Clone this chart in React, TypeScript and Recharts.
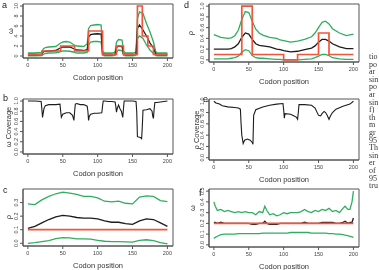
import { Line, LineChart, ReferenceArea, XAxis, YAxis } from "recharts";

const RED = "#f2553d";
const GREEN = "#2fae5f";
const BLACK = "#1c1c1c";
const AXIS = "#555";
const TEXT = "#333";

const codonTicks = [0, 50, 100, 150, 200];
const codonDomain: [number, number] = [-7, 208];

// panel a: omega, variable along the sequence
const aX = [0, 10, 20, 22, 25, 30, 40, 45, 50, 55, 60, 65, 70, 80, 85, 87, 90, 95, 100, 105, 107, 110, 120, 125, 127, 130, 135, 137, 140, 150, 155, 157, 160, 165, 170, 175, 180, 183, 185, 190, 200];
const aMean = [0.3, 0.3, 0.35, 0.8, 0.95, 1.0, 1.1, 1.5, 1.8, 1.85, 1.8, 1.5, 1.2, 1.1, 1.3, 3.8, 4.3, 4.4, 4.45, 4.4, 0.5, 0.3, 0.3, 0.35, 1.7, 2.0, 1.9, 0.5, 0.3, 0.3, 0.35, 5.5, 6.2, 5.2, 4.0, 2.6, 1.6, 0.5, 0.3, 0.3, 0.3];
const aUpper = [0.6, 0.6, 0.7, 1.4, 1.7, 1.8, 1.9, 2.4, 2.8, 2.9, 2.8, 2.3, 2.0, 1.9, 2.4, 5.5, 6.1, 6.2, 6.3, 6.2, 1.0, 0.6, 0.6, 0.8, 2.8, 3.3, 3.2, 1.0, 0.6, 0.6, 0.8, 7.5, 8.8, 8.5, 6.5, 4.8, 2.8, 1.0, 0.6, 0.6, 0.6];
const aLower = [0.05, 0.05, 0.08, 0.3, 0.5, 0.6, 0.65, 0.8, 1.0, 1.0, 0.95, 0.8, 0.6, 0.6, 0.7, 2.2, 2.8, 2.9, 2.9, 2.8, 0.2, 0.05, 0.05, 0.1, 0.8, 1.2, 1.1, 0.2, 0.05, 0.05, 0.1, 3.5, 4.0, 3.5, 2.2, 1.2, 0.5, 0.1, 0.05, 0.05, 0.05];
const aTrueX = [0, 20, 47, 67, 87, 107, 127, 137, 157, 164, 172, 180, 200];
const aTrue = [0.3, 1, 2, 1, 5, 0.3, 2, 0.3, 10, 4, 2, 0.3, 0.3];

// panel b: omega coverage
const bX = [0, 10, 19, 20, 21, 23, 25, 30, 40, 46, 47, 48, 50, 55, 60, 64, 66, 67, 68, 70, 75, 80, 85, 86, 87, 88, 90, 95, 100, 106, 107, 108, 110, 115, 120, 125, 126, 127, 128, 130, 132, 134, 136, 137, 138, 140, 150, 155, 156, 157, 160, 162, 163, 164, 165, 170, 175, 178, 179, 180, 181, 182, 185, 190, 195, 200];
const bCov = [1.0, 1.0, 0.99, 0.85, 0.68, 0.85, 0.91, 0.93, 0.93, 0.94, 0.8, 0.68, 0.74, 0.77, 0.77, 0.72, 0.62, 0.8, 0.94, 0.95, 0.93, 0.93, 0.9, 0.8, 0.62, 0.7, 0.74, 0.76, 0.76, 0.77, 0.9, 1.0, 1.0, 0.99, 0.99, 0.98, 0.9, 0.78, 0.85, 0.92, 0.85, 0.8, 0.68, 0.85, 1.0, 1.0, 1.0, 0.99, 0.8, 0.3, 0.29, 0.28, 0.25, 0.5, 0.82, 0.83, 0.85, 0.8, 0.7, 0.66, 0.85, 0.97, 0.97, 0.98, 0.99, 1.0];

// panel c: rho, constant
const cX = [0, 10, 20, 30, 40, 50, 60, 70, 80, 90, 100, 110, 120, 130, 140, 150, 160, 170, 180, 190, 200];
const cMean = [0.11, 0.125, 0.15, 0.175, 0.195, 0.205, 0.2, 0.19, 0.185, 0.185, 0.18, 0.165, 0.155, 0.155, 0.145, 0.14, 0.165, 0.18, 0.175, 0.15, 0.125];
const cUpper = [0.29, 0.285, 0.32, 0.345, 0.365, 0.377, 0.37, 0.36, 0.345, 0.345, 0.335, 0.31, 0.305, 0.31, 0.295, 0.29, 0.34, 0.35, 0.345, 0.315, 0.307];
const cLower = [0.0, 0.005, 0.012, 0.02, 0.035, 0.042, 0.04, 0.033, 0.033, 0.03, 0.022, 0.015, 0.012, 0.012, 0.01, 0.008, 0.022, 0.026, 0.02, 0.005, -0.005];
const cTrueX = [0, 200];
const cTrue = [0.1, 0.1];

// panel d: rho, variable
const dX = [0, 10, 20, 25, 30, 35, 40, 45, 50, 55, 60, 65, 70, 80, 90, 95, 100, 110, 120, 130, 140, 145, 150, 155, 160, 165, 170, 180, 190, 200];
const dMean = [0.2, 0.2, 0.2, 0.21, 0.24, 0.3, 0.42, 0.5, 0.48, 0.38, 0.3, 0.27, 0.26, 0.24, 0.2, 0.19, 0.17, 0.15, 0.16, 0.19, 0.22, 0.26, 0.33, 0.38, 0.38, 0.35, 0.3, 0.24, 0.21, 0.21];
const dUpper = [0.47, 0.42, 0.4, 0.41, 0.45, 0.55, 0.75, 0.9, 0.88, 0.72, 0.57, 0.5, 0.46, 0.42, 0.4, 0.37, 0.36, 0.33, 0.35, 0.38, 0.43, 0.5, 0.6, 0.7, 0.72, 0.67, 0.58, 0.5, 0.45, 0.48];
const dLower = [0.02, 0.02, 0.02, 0.03, 0.04, 0.07, 0.14, 0.19, 0.17, 0.08, 0.04, 0.03, 0.03, 0.02, 0.01, 0.01, 0.0, 0.0, 0.0, 0.01, 0.02, 0.04, 0.07, 0.1, 0.1, 0.08, 0.04, 0.02, 0.01, 0.01];
const dTrueX = [0, 40, 55, 100, 120, 150, 165, 200];
const dTrue = [0.1, 1, 0.1, 0, 0.1, 0.5, 0.1, 0.1];

// panel e: rho coverage
const eX = [0, 3, 8, 12, 20, 30, 35, 38, 39, 40, 42, 44, 48, 52, 55, 56, 57, 60, 70, 80, 90, 99, 100, 101, 102, 110, 115, 118, 120, 121, 122, 130, 140, 145, 150, 153, 155, 158, 160, 162, 165, 167, 170, 175, 185, 195, 200];
const eCov = [1.0, 0.97, 0.95, 0.92, 0.9, 0.89, 0.88, 0.86, 0.6, 0.4, 0.25, 0.31, 0.33, 0.31, 0.27, 0.24, 0.75, 0.85, 0.9, 0.93, 0.95, 0.96, 0.85, 0.7, 0.78, 0.77, 0.74, 0.72, 0.68, 0.8, 0.94, 0.94, 0.93, 0.88, 0.75, 0.74, 0.78, 0.82, 0.8, 0.76, 0.68, 0.74, 0.8, 0.86, 0.91, 0.95, 1.0];

// panel f: omega, constant
const fX = [0, 2, 5, 10, 15, 20, 25, 30, 35, 40, 45, 50, 55, 60, 65, 70, 73, 76, 80, 85, 90, 95, 100, 105, 110, 115, 120, 125, 130, 135, 140, 145, 150, 155, 160, 165, 170, 175, 180, 185, 188, 192, 195, 198, 200];
const fMean = [0.21, 0.21, 0.2, 0.21, 0.2, 0.2, 0.2, 0.2, 0.2, 0.2, 0.2, 0.2, 0.19, 0.19, 0.2, 0.2, 0.22, 0.2, 0.19, 0.19, 0.19, 0.2, 0.2, 0.2, 0.2, 0.2, 0.2, 0.2, 0.21, 0.2, 0.2, 0.2, 0.2, 0.21, 0.21, 0.21, 0.21, 0.2, 0.2, 0.21, 0.22, 0.2, 0.21, 0.21, 0.25];
const fUpper = [0.4, 0.36, 0.32, 0.33, 0.31, 0.32, 0.31, 0.3, 0.31, 0.3, 0.31, 0.3, 0.3, 0.28, 0.31, 0.3, 0.36, 0.32, 0.28, 0.29, 0.27, 0.28, 0.3, 0.29, 0.3, 0.3, 0.3, 0.31, 0.33, 0.31, 0.3, 0.32, 0.31, 0.33, 0.32, 0.34, 0.31, 0.32, 0.3, 0.34, 0.36, 0.33, 0.33, 0.4, 0.5];
const fLower = [0.06, 0.07, 0.08, 0.095, 0.1, 0.1, 0.1, 0.1, 0.105, 0.105, 0.105, 0.105, 0.105, 0.105, 0.105, 0.11, 0.11, 0.11, 0.11, 0.11, 0.11, 0.11, 0.11, 0.11, 0.115, 0.115, 0.115, 0.115, 0.115, 0.115, 0.11, 0.11, 0.11, 0.11, 0.11, 0.105, 0.105, 0.1, 0.1, 0.095, 0.09, 0.085, 0.08, 0.075, 0.07];
const fTrueX = [0, 200];
const fTrue = [0.2, 0.2];

const coverageTicks = [0, 0.2, 0.4, 0.6, 0.8, 1.0];

// cropped column of body text at the right edge of the figure
const sideText = ["tio", "po", "ar", "sin", "po", "ar", "sin", "f)", "th", "m", "gr", "95", "Th", "sin", "er", "of", "95", "tru"];

type Series = { xs: number[]; ys: number[]; color: string; width: number; step?: boolean };

const rows = (xs: number[], ys: number[]) => xs.map((x, i) => ({ x, y: ys[i] }));

const ciSeries = (xs: number[], mean: number[], up: number[], lo: number[], tx: number[], ty: number[]): Series[] => [
  { xs, ys: up, color: GREEN, width: 1.3 },
  { xs, ys: lo, color: GREEN, width: 1.3 },
  { xs, ys: mean, color: BLACK, width: 1.3 },
  { xs: tx, ys: ty, color: RED, width: 1.7, step: true },
];

function XTick(props: any) {
  const { x, y, payload } = props;
  return (
    <text x={x} y={y + 5} textAnchor="middle" fontSize={5.5} fill="#444">
      {payload.value}
    </text>
  );
}

function YTick(props: any) {
  const { x, y, payload, digits } = props;
  return (
    <text
      x={x}
      y={y}
      transform={`rotate(-90 ${x} ${y})`}
      textAnchor="middle"
      fontSize={5.5}
      fill="#444"
    >
      {Number(payload.value).toFixed(digits)}
    </text>
  );
}

const YW = 23;
const MT = 4;
const MR = 6;
const XH = 24;

interface PanelProps {
  box: [number, number, number, number];
  yDomain: [number, number];
  yTicks: number[];
  digits: number;
  series: Series[];
}

function Panel({ box, yDomain, yTicks, digits, series }: PanelProps) {
  const [left, top, w, h] = box;
  return (
    <div
      style={{
        position: "absolute",
        left: left - YW,
        top: top - MT,
        willChange: "transform",
      }}
    >
      <LineChart
        width={w + YW + MR}
        height={h + MT + XH}
        margin={{ top: MT, right: MR, left: 0, bottom: 0 }}
      >
        <XAxis
          type="number"
          dataKey="x"
          domain={codonDomain}
          ticks={codonTicks}
          interval={0}
          height={XH}
          stroke={AXIS}
          tickSize={3}
          tickMargin={1}
          tick={<XTick />}
          label={{
            value: "Codon position",
            position: "insideBottom",
            offset: 2,
            fill: TEXT,
            fontSize: 7.5,
          }}
        />
        <YAxis
          type="number"
          dataKey="y"
          domain={yDomain}
          ticks={yTicks}
          interval={0}
          width={YW}
          stroke={AXIS}
          tickSize={3}
          tickMargin={2}
          tick={<YTick digits={digits} />}
        />
        <ReferenceArea
          x1={codonDomain[0]}
          x2={codonDomain[1]}
          y1={yDomain[0]}
          y2={yDomain[1]}
          fill="none"
          stroke={AXIS}
          strokeWidth={1}
        />
        {series.map((s, i) => (
          <Line
            key={i}
            data={rows(s.xs, s.ys)}
            dataKey="y"
            type={s.step ? "stepAfter" : "linear"}
            stroke={s.color}
            strokeWidth={s.width}
            dot={false}
            isAnimationActive={false}
          />
        ))}
      </LineChart>
    </div>
  );
}

function RotLabel({ x, y, text }: { x: number; y: number; text: string }) {
  return (
    <text
      x={x}
      y={y}
      transform={`rotate(-90 ${x} ${y})`}
      textAnchor="middle"
      dominantBaseline="central"
      fontSize={7.5}
      fill={TEXT}
    >
      {text}
    </text>
  );
}

export default function App() {
  return (
    <div
      style={{
        position: "fixed",
        left: 0,
        top: 0,
        width: 379,
        height: 270,
        overflow: "hidden",
        background: "#fff",
        fontFamily: "'Liberation Sans', Arial, sans-serif",
      }}
    >
      <Panel box={[23, 4, 150, 54]} yDomain={[-0.4, 10.4]} yTicks={[0, 2, 4, 6, 8, 10]} digits={0}
        series={ciSeries(aX, aMean, aUpper, aLower, aTrueX, aTrue)} />
      <Panel box={[23, 99, 150, 55]} yDomain={[-0.04, 1.04]} yTicks={coverageTicks} digits={1}
        series={[{ xs: bX, ys: bCov, color: BLACK, width: 1.1 }]} />
      <Panel box={[23, 189, 150, 57]} yDomain={[-0.02, 0.4]} yTicks={[0, 0.1, 0.2, 0.3]} digits={1}
        series={ciSeries(cX, cMean, cUpper, cLower, cTrueX, cTrue)} />
      <Panel box={[209, 4, 150, 58]} yDomain={[-0.04, 1.04]} yTicks={coverageTicks} digits={1}
        series={ciSeries(dX, dMean, dUpper, dLower, dTrueX, dTrue)} />
      <Panel box={[209, 99, 150, 61]} yDomain={[-0.04, 1.04]} yTicks={coverageTicks} digits={1}
        series={[{ xs: eX, ys: eCov, color: BLACK, width: 1.1 }]} />
      <Panel box={[209, 189, 150, 58]} yDomain={[-0.02, 0.52]} yTicks={[0, 0.1, 0.2, 0.3, 0.4, 0.5]} digits={1}
        series={ciSeries(fX, fMean, fUpper, fLower, fTrueX, fTrue)} />

      <svg
        width={379}
        height={270}
        style={{
          position: "absolute",
          left: 0,
          top: 0,
          pointerEvents: "none",
          willChange: "transform",
        }}
      >
        <g fontSize={9} fill="#222">
          <text x={2} y={8}>a</text>
          <text x={3} y={101}>b</text>
          <text x={3} y={193}>c</text>
          <text x={184} y={8}>d</text>
          <text x={203} y={102}>e</text>
          <text x={199} y={196}>f</text>
        </g>
        <RotLabel x={10} y={31} text="ω" />
        <RotLabel x={8} y={127} text="ω Coverage" />
        <RotLabel x={8} y={217} text="ρ" />
        <RotLabel x={190} y={33} text="ρ" />
        <RotLabel x={196} y={130} text="ρ Coverage" />
        <RotLabel x={192} y={208} text="ω" />
        <g fontSize={8} fill={TEXT} fontFamily="'Liberation Serif', 'Times New Roman', serif">
          {sideText.map((t, i) => (
            <text key={i} x={369} y={59 + i * 7.6}>
              {t}
            </text>
          ))}
        </g>
      </svg>
    </div>
  );
}
